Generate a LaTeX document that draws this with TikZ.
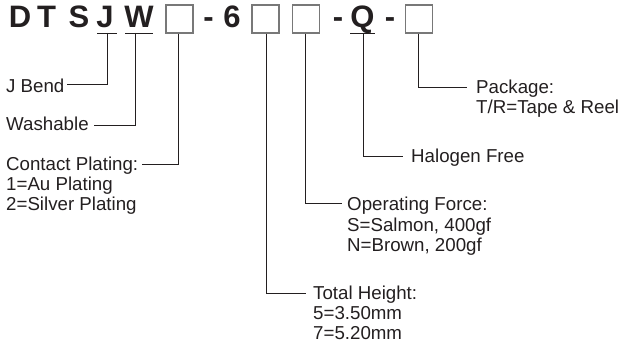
\documentclass[tikz,border=0pt]{standalone}
\usepackage{fontspec}
\setmainfont{Liberation Sans}
\definecolor{ink}{RGB}{35,31,32}
\definecolor{boxgray}{RGB}{120,120,120}
\begin{document}
\begin{tikzpicture}[x=1pt,y=-1pt,
  title/.style={inner sep=0,anchor=base,text=ink,font=\fontsize{31}{32}\selectfont\bfseries},
  slot/.style={draw=boxgray,line width=1.3pt,fill=white,minimum width=27pt,minimum height=28pt,inner sep=0},
  lbl/.style={inner sep=0,anchor=base west,text=ink,font=\fontsize{18.7}{20}\selectfont},
  conn/.style={draw=ink,line width=0.9pt}]
\useasboundingbox (0,0) rectangle (619,347);
% title row
\node[title] (D) at (20,27.5) {D};
\node[title] (T) at (46.5,27.5) {T};
\node[title] (S) at (79,27.5) {S};
\node[title] (J) at (105,27.5) {J};
\node[title] (W) at (139,27.5) {W};
\node[slot] (b1) at (179.5,19) {};
\node[title] (h1) at (208.5,27.5) {-};
\node[title] (six) at (232,27.5) {6};
\node[slot] (b2) at (265.5,19) {};
\node[slot] (b3) at (306,19) {};
\node[title] (h2) at (338,27.5) {-};
\node[title] (Q) at (362.5,27.5) {Q};
\node[title] (h3) at (390,27.5) {-};
\node[slot] (b4) at (419,19) {};
% underlines
\coordinate (uJ) at (107,33);
\coordinate (uW) at (135,33);
\coordinate (uQ) at (363,33);
\draw[conn] (97,33) -- (117,33);
\draw[conn] (125,33) -- (153,33);
\draw[conn] (350,33) -- (375,33);
% labels
\node[lbl] (jb) at (6,92.7) {J Bend};
\node[lbl] (wa) at (6,131) {Washable};
\node[lbl] (cp) at (6,171) {Contact Plating:};
\node[lbl] (cp1) at (6,191) {1=Au Plating};
\node[lbl] (cp2) at (6,211) {2=Silver Plating};
\node[lbl] (pk) at (476,94) {Package:};
\node[lbl] (pk1) at (476,114) {T/R=Tape \& Reel};
\node[lbl] (hf) at (411,163) {Halogen Free};
\node[lbl] (of) at (347,211) {Operating Force:};
\node[lbl] (of1) at (347,231.5) {S=Salmon, 400gf};
\node[lbl] (of2) at (347,252) {N=Brown, 200gf};
\node[lbl] (th) at (313,300) {Total Height:};
\node[lbl] (th1) at (313,320) {5=3.50mm};
\node[lbl] (th2) at (313,339.5) {7=5.20mm};
% connector ends
\coordinate (eJ) at (67,84);
\coordinate (eW) at (94,125);
\coordinate (e1) at (142,164);
\coordinate (e4) at (467,87);
\coordinate (eQ) at (403,156);
\coordinate (e3) at (342,203);
\coordinate (e2) at (306,293);
% connectors
\draw[conn] (uJ) |- (eJ);
\draw[conn] (uW) |- (eW);
\draw[conn] ([xshift=-1.5pt]b1.south) |- (e1);
\draw[conn] ([xshift=-1pt]b4.south) |- (e4);
\draw[conn] (uQ) |- (eQ);
\draw[conn] ([xshift=-0.5pt]b3.south) |- (e3);
\draw[conn] ([xshift=0.5pt]b2.south) |- (e2);
\end{tikzpicture}
\end{document}
